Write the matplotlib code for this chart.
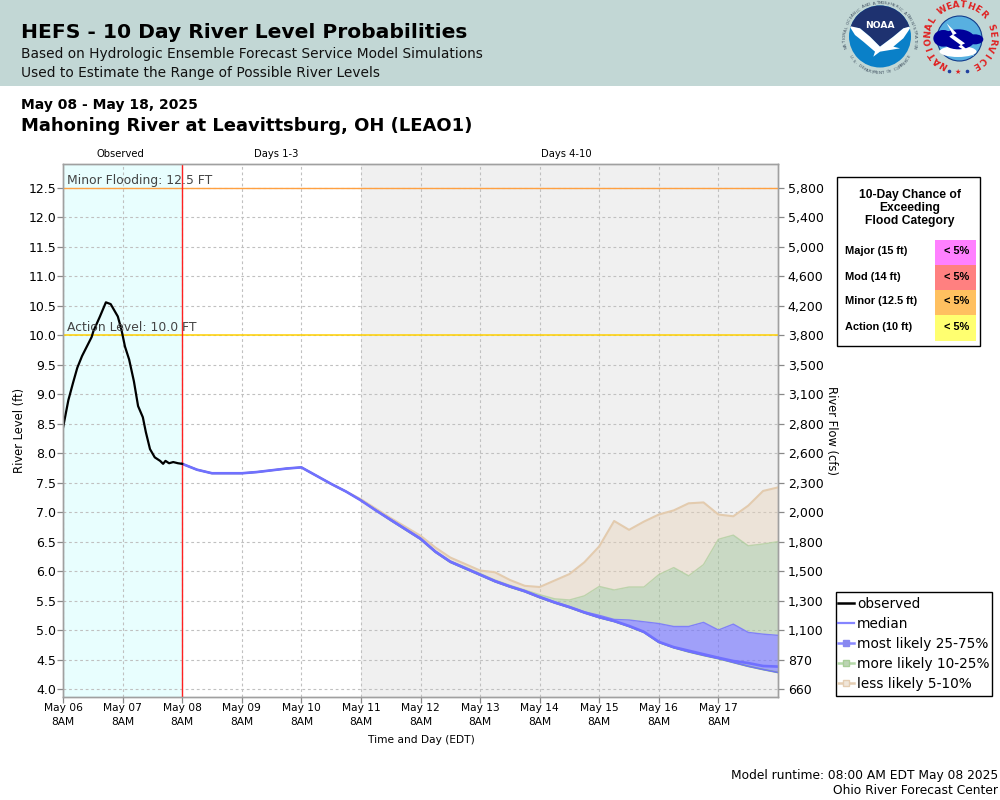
import numpy as np
import matplotlib
matplotlib.use("Agg")
import matplotlib.pyplot as plt
from matplotlib.lines import Line2D
from matplotlib.patches import Rectangle, Circle, Polygon, Ellipse

# ---- data (x in days after May 06 8AM) ----
obs_x = [0.0, 0.09, 0.17, 0.24, 0.32, 0.38, 0.48, 0.51, 0.62, 0.72, 0.80, 0.92, 0.98, 1.04,
         1.11, 1.19, 1.26, 1.34, 1.39, 1.46, 1.54, 1.63, 1.68, 1.72, 1.78, 1.85, 1.93, 2.0]
obs_y = [8.43, 8.90, 9.20, 9.45, 9.65, 9.77, 9.97, 10.07, 10.32, 10.56, 10.53, 10.32, 10.10, 9.81,
         9.59, 9.22, 8.80, 8.61, 8.36, 8.07, 7.93, 7.87, 7.82, 7.87, 7.83, 7.85, 7.83, 7.82]
fc_x = [2 + 0.25 * i for i in range(41)]
lead = [7.82, 7.72, 7.66, 7.66, 7.66, 7.68, 7.71, 7.74, 7.76, 7.62, 7.48, 7.35]
median = lead + [7.20, 7.03, 6.87, 6.71, 6.55, 6.33, 6.16, 6.05, 5.94, 5.83, 5.74, 5.66, 5.56,
                 5.47, 5.39, 5.30, 5.22, 5.155, 5.07, 4.97, 4.80, 4.71, 4.65, 4.59, 4.53,
                 4.475, 4.44, 4.39, 4.38]
p25 = lead + [7.20, 7.03, 6.86, 6.70, 6.54, 6.32, 6.15, 6.04, 5.93, 5.82, 5.73, 5.65, 5.55,
              5.46, 5.38, 5.29, 5.21, 5.145, 5.06, 4.96, 4.79, 4.70, 4.63, 4.57, 4.515,
              4.45, 4.385, 4.33, 4.28]
p75 = lead + [7.20, 7.04, 6.88, 6.72, 6.56, 6.34, 6.17, 6.06, 5.95, 5.84, 5.75, 5.67, 5.57,
              5.48, 5.40, 5.31, 5.25, 5.18, 5.17, 5.14, 5.11, 5.06, 5.06, 5.13, 5.00,
              5.10, 4.96, 4.93, 4.91]
p90 = lead + [7.20, 7.04, 6.88, 6.72, 6.56, 6.34, 6.17, 6.07, 5.96, 5.85, 5.76, 5.68, 5.60,
              5.53, 5.51, 5.58, 5.74, 5.68, 5.73, 5.73, 5.94, 6.06, 5.92, 6.11, 6.54,
              6.61, 6.43, 6.46, 6.50]
p95 = lead + [7.22, 7.06, 6.90, 6.75, 6.60, 6.40, 6.23, 6.12, 6.01, 5.98, 5.85, 5.75, 5.73,
              5.84, 5.95, 6.15, 6.42, 6.85, 6.70, 6.84, 6.96, 7.03, 7.15, 7.165, 6.96,
              6.93, 7.11, 7.36, 7.42]
stage_ticks = [4.0, 4.5, 5.0, 5.5, 6.0, 6.5, 7.0, 7.5, 8.0, 8.5, 9.0, 9.5, 10.0, 10.5, 11.0, 11.5, 12.0, 12.5]
flow_labels = ["660", "870", "1,100", "1,300", "1,500", "1,800", "2,000", "2,300", "2,600", "2,800",
               "3,100", "3,500", "3,800", "4,200", "4,600", "5,000", "5,400", "5,800"]
day_labels = ["May 06", "May 07", "May 08", "May 09", "May 10", "May 11", "May 12", "May 13",
              "May 14", "May 15", "May 16", "May 17"]
flood_names = ["Major (15 ft)", "Mod (14 ft)", "Minor (12.5 ft)", "Action (10 ft)"]
flood_chance = ["< 5%", "< 5%", "< 5%", "< 5%"]
flood_colors = ["#FF80FF", "#FF8080", "#FFC060", "#FFFF70"]

plt.rcParams["font.family"] = "DejaVu Sans"
fig = plt.figure(figsize=(10, 8), dpi=100, facecolor="white")

# ---- overlay in pixel coordinates ----
ov = fig.add_axes([0, 0, 1, 1], zorder=3)
ov.set_xlim(0, 1000); ov.set_ylim(800, 0); ov.axis("off"); ov.patch.set_alpha(0)
ov.add_patch(Rectangle((0, 0), 1000, 86, fc="#C2D7D5", ec="none"))
ov.text(21, 33, "HEFS - 10 Day River Level Probabilities", fontsize=14.6, fontweight="bold", va="center")
ov.text(21, 54, "Based on Hydrologic Ensemble Forecast Service Model Simulations", fontsize=9.95, va="center", color="#111111")
ov.text(21, 73, "Used to Estimate the Range of Possible River Levels", fontsize=9.95, va="center", color="#111111")
ov.text(21, 105, "May 08 - May 18, 2025", fontsize=10, fontweight="bold", va="center")
ov.text(21, 126, "Mahoning River at Leavittsburg, OH (LEAO1)", fontsize=12.95, fontweight="bold", va="center")
ov.text(120, 154, "Observed", fontsize=7.2, ha="center", va="center")
ov.text(276, 154, "Days 1-3", fontsize=7.2, ha="center", va="center")
ov.text(566, 154, "Days 4-10", fontsize=7.2, ha="center", va="center")
ov.text(421, 740, "Time and Day (EDT)", fontsize=7.7, ha="center", va="center")
ov.text(998, 776, "Model runtime: 08:00 AM EDT May 08 2025", fontsize=8.84, ha="right", va="center")
ov.text(998, 791, "Ohio River Forecast Center", fontsize=8.84, ha="right", va="center")


def ring_text(s, cx, cy, r, start, end, bottom=False, **kw):
    for ch, a in zip(s, np.linspace(start, end, len(s))):
        t = np.deg2rad(a)
        if bottom:
            ov.text(cx + r * np.sin(t), cy + r * np.cos(t), ch, rotation=a, rotation_mode="anchor",
                    ha="center", va="center", **kw)
        else:
            ov.text(cx + r * np.sin(t), cy - r * np.cos(t), ch, rotation=-a, rotation_mode="anchor",
                    ha="center", va="center", **kw)


def crop(pts, x0):
    return [(x0 + px / 3, py / 3) for px, py in pts]


# NOAA logo
disc = Circle((880, 36.5), 31, fc="#0A80C8", ec="none")
ov.add_patch(disc)
navy = Polygon(crop([(20, 0), (220, 0), (220, 78), (190, 85), (160, 110), (120, 140), (90, 110), (60, 85), (20, 78)], 840),
               fc="#1E3270", ec="none")
ov.add_patch(navy)
navy.set_clip_path(disc)
bird = Polygon(crop([(28, 78), (60, 85), (90, 110), (120, 140), (160, 110), (190, 85), (215, 78), (190, 115), (160, 140),
                     (180, 145), (120, 155), (100, 170), (105, 155), (70, 125), (45, 105)], 840),
               fc="white", ec="none")
ov.add_patch(bird)
bird.set_clip_path(disc)
ov.text(880, 25.5, "NOAA", fontsize=6.6, color="white", fontweight="bold", ha="center", va="center")
ring_text("NATIONAL OCEANIC AND ATMOSPHERIC ADMINISTRATION", 880, 38, 35, -105, 105, fontsize=3, color="#405060")
ring_text("U.S. DEPARTMENT OF COMMERCE", 880, 38, 35, -58, 58, bottom=True, fontsize=3, color="#405060")

# NWS logo
ov.add_patch(Circle((959.5, 38.5), 22.5, fc="#58B0E0", ec="#123C8C", lw=0.8))
ov.add_patch(Ellipse((958, 51.5), 37, 11, fc="white", ec="none"))
for (ex, ey), w, h in [((70, 115), 60, 50), ((115, 118), 100, 60), ((165, 118), 50, 30)]:
    ov.add_patch(Ellipse((920 + ex / 3, ey / 3), w / 3, h / 3, fc="#00009A", ec="none"))
ov.add_patch(Polygon(crop([(80, 70), (110, 100), (100, 105), (135, 130), (125, 135), (165, 170), (115, 140), (122, 135),
                           (88, 110), (98, 103)], 920), fc="white", ec="none"))
ring_text("NATIONAL WEATHER SERVICE", 960, 37, 32, -150, 150, fontsize=6.4, color="#E02020", fontweight="bold")
ov.text(958, 71.5, "★", fontsize=5, color="#E02020", ha="center", va="center")
ov.plot([949, 967], [71, 71], ls="none", marker="o", ms=1.6, color="#2040A0")

# flood category box
ov.add_patch(Rectangle((836.5, 176.5), 143.5, 169, fc="white", ec="black", lw=1))
for i, line in enumerate(["10-Day Chance of", "Exceeding", "Flood Category"]):
    ov.text(910, 195 + 13 * i, line, fontsize=8.7, family="Liberation Sans", fontweight="bold", ha="center", va="center")
for i, (nm, ch, col) in enumerate(zip(flood_names, flood_chance, flood_colors)):
    y0 = 240 + 25 * i
    ov.add_patch(Rectangle((935, y0), 41, 26 if i == 3 else 25, fc=col, ec="none"))
    ov.text(845, y0 + 11.5, nm, fontsize=7.9, family="Liberation Sans", fontweight="bold", va="center")
    ov.text(957, y0 + 11.5, ch, fontsize=7.9, family="Liberation Sans", fontweight="bold", ha="center", va="center")

# legend box
ov.add_patch(Rectangle((835.5, 591.5), 156, 104, fc="white", ec="black", lw=1))

# ---- main axes ----
ax = fig.add_axes([63 / 1000, 1 - 697 / 800, 715 / 1000, 533 / 800], zorder=1)
ax.set_xlim(0, 12)
ax.set_ylim(3.864, 12.907)
ax.set_axisbelow(True)
ax.grid(True, color="#C0C0C0", ls=(0, (2.5, 2.5)), lw=0.8)
ax.axvspan(0, 2, fc="#E8FEFE", ec="none", zorder=0)
ax.axvspan(5, 12, fc="#F0F0F0", ec="none", zorder=0)

TAN, GREEN, BLUE = "#E3CBAE", "#A9CC98", "#7070FF"
ax.fill_between(fc_x, p90, p95, color="#E8D2B8", alpha=0.42, lw=0, zorder=2)
ax.fill_between(fc_x, p75, p90, color="#A4C49A", alpha=0.50, lw=0, zorder=2)
ax.fill_between(fc_x, p25, p75, color="#7070FF", alpha=0.62, lw=0, zorder=2)
ax.plot(fc_x, p95, color=TAN, lw=1.5, zorder=3)
ax.plot(fc_x, p90, color=GREEN, lw=1.0, alpha=0.7, zorder=3)
ax.plot(fc_x, p75, color="#8080F8", lw=1.0, zorder=3)
ax.plot(fc_x, p25, color="#80B080", lw=1.3, zorder=3)
ax.plot(fc_x, p25, color=BLUE, lw=0.9, zorder=3)
ax.plot(fc_x, median, color=BLUE, lw=1.9, zorder=4)
ax.plot(obs_x, obs_y, color="black", lw=1.6, zorder=5)

ax.axhline(12.5, color="#FFA040", lw=1.0, zorder=4)
ax.axhline(10.0, color="#FFD000", lw=1.1, zorder=4)
ax.axvline(2, color="#FF2020", lw=1.0, zorder=4)
ax.text(0.06, 12.52, "Minor Flooding: 12.5 FT", fontsize=8.9, color="#444444", va="bottom", zorder=6)
ax.text(0.06, 10.02, "Action Level: 10.0 FT", fontsize=8.9, color="#444444", va="bottom", zorder=6)

ax.set_xticks(range(12))
ax.set_xticklabels([d + "\n8AM" for d in day_labels], fontsize=7.7, linespacing=1.45)
ax.set_yticks(stage_ticks)
ax.set_yticklabels([f"{v:.1f}" for v in stage_ticks], fontsize=9)
ax.tick_params(axis="x", color="#888888", length=4, width=0.9, pad=0.5)
ax.tick_params(axis="y", color="#888888", length=4, width=0.9, pad=0.8)
ax.set_ylabel("River Level (ft)", fontsize=8.3, labelpad=1.5)

ax2 = ax.twinx()
ax2.set_ylim(ax.get_ylim())
ax2.set_yticks(stage_ticks)
ax2.set_yticklabels(flow_labels, fontsize=9)
ax2.tick_params(axis="y", color="#888888", length=4, width=0.9, pad=3)
ax2.set_ylabel("River Flow (cfs)", fontsize=8.3, rotation=270, labelpad=10)
for a in (ax, ax2):
    for s in a.spines.values():
        s.set_color("#A0A0A0"); s.set_linewidth(1.0)

# legend
handles = [
    Line2D([], [], color="black", lw=1.8),
    Line2D([], [], color=BLUE, lw=1.6, alpha=0.85),
    Line2D([], [], color="#8888FF", lw=1.8, marker="s", ms=5, mfc="#8888F0", mec="#8888F0"),
    Line2D([], [], color="#B4D8A8", lw=1.8, marker="s", ms=5, mfc="#BCD4B4", mec="#A8CC98"),
    Line2D([], [], color="#E4CDB2", lw=1.8, marker="s", ms=5, mfc="#F0E6DA", mec="#E4CDB2"),
]
labels = ["observed", "median", "most likely 25-75%", "more likely 10-25%", "less likely 5-10%"]
leg = fig.legend(handles, labels, loc="upper left", bbox_to_anchor=(838 / 1000, 1 - 597 / 800), borderaxespad=0,
                 fontsize=9.85, frameon=False, handlelength=1.15, handletextpad=0.25, labelspacing=0.44, borderpad=0)
leg.set_zorder(5)

fig.savefig("out.png", dpi=100)
